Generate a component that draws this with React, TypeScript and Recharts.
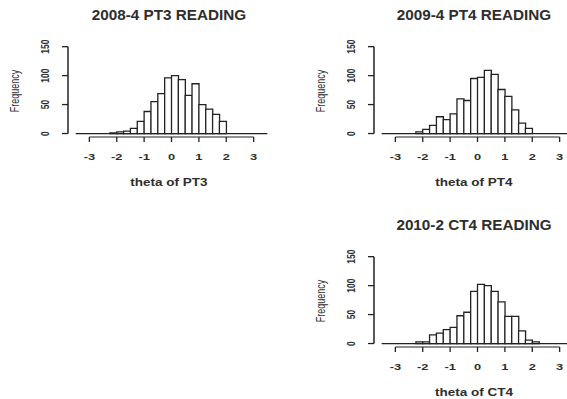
import React from "react";
import { BarChart, Bar, XAxis, YAxis, ReferenceLine } from "recharts";

// bin centres of the histogram (breaks every 0.25 from -3.5 to 3.5)
const binMids = [
  -3.375, -3.125, -2.875, -2.625, -2.375, -2.125, -1.875, -1.625, -1.375, -1.125,
  -0.875, -0.625, -0.375, -0.125, 0.125, 0.375, 0.625, 0.875, 1.125, 1.375,
  1.625, 1.875, 2.125, 2.375, 2.625, 2.875, 3.125, 3.375,
];
const binRange = [-3.5, 3.5];

const pt3Counts = [0, 0, 0, 0, 0, 1, 3, 4, 9, 21, 38, 55, 69, 96, 100, 93, 66, 86, 50, 42, 33, 21, 0, 0, 0, 0, 0, 0];
const pt4Counts = [0, 0, 0, 0, 0, 3, 7, 14, 29, 24, 34, 60, 57, 95, 97, 109, 102, 76, 64, 41, 18, 9, 0, 0, 0, 0, 0, 0];
const ct4Counts = [0, 0, 0, 0, 0, 3, 3, 15, 18, 24, 28, 48, 54, 90, 102, 100, 90, 72, 47, 47, 22, 6, 3, 0, 0, 0, 0, 0];

const xTicks = [-3, -2, -1, 0, 1, 2, 3];
const yTicks = [0, 50, 100, 150];
const titles = ["2008-4 PT3 READING", "2009-4 PT4 READING", "2010-2 CT4 READING"];
const xLabels = ["theta of PT3", "theta of PT4", "theta of CT4"];

const INK = "#222";
const TEXT = "#2e2e2e";
const FONT = "'Liberation Sans', Arial, sans-serif";
const STRETCH = 1.35;

const PANEL_W = 290;
const PANEL_H = 200;
const AXIS_W = 68;
const PLOT_W = 207;

const XTick = ({ x, y, payload }: any) => (
  <text
    transform={`translate(${x},${y + 14.5}) scale(${STRETCH},1)`}
    textAnchor="middle"
    dominantBaseline="central"
    fontSize={9.5}
    fontWeight="bold"
    fontFamily={FONT}
    fill={TEXT}
  >
    {payload.value}
  </text>
);

const YTick = ({ x, y, payload }: any) => (
  <text
    transform={`translate(${x - 17},${y}) scale(${STRETCH},1) rotate(-90)`}
    textAnchor="middle"
    dominantBaseline="central"
    fontSize={8.5}
    fontWeight="bold"
    fontFamily={FONT}
    fill={TEXT}
  >
    {payload.value}
  </text>
);

interface HistProps {
  title: string;
  xLabel: string;
  counts: number[];
  left: number;
  top: number;
}

const Histogram = ({ title, xLabel, counts, left, top }: HistProps) => {
  const rows = binMids.map((mid, i) => ({ mid, count: counts[i] }));
  const centre = AXIS_W + PLOT_W / 2 - 3;
  return (
    <div style={{ position: "absolute", left, top, width: PANEL_W, height: PANEL_H }}>
      <BarChart
        width={PANEL_W}
        height={PANEL_H}
        data={rows}
        margin={{ top: 43.2, right: PANEL_W - AXIS_W - PLOT_W, bottom: 0, left: 0 }}
        barCategoryGap={0}
        barGap={0}
      >
        <XAxis
          type="number"
          dataKey="mid"
          domain={[-3.78, 3.78]}
          allowDataOverflow
          ticks={xTicks}
          interval={0}
          height={63}
          axisLine={false}
          tickLine={{ stroke: INK, strokeWidth: 1.3 }}
          tickSize={5}
          tickMargin={0}
          tick={XTick}
        />
        <YAxis
          type="number"
          domain={[-6, 156]}
          allowDataOverflow
          ticks={yTicks}
          interval={0}
          width={AXIS_W}
          axisLine={false}
          tickLine={{ stroke: INK, strokeWidth: 1.3 }}
          tickSize={6}
          tickMargin={0}
          tick={YTick}
        />
        <ReferenceLine
          segment={[{ x: xTicks[0], y: -6 }, { x: xTicks[xTicks.length - 1], y: -6 }]}
          stroke={INK}
          strokeWidth={1.2}
          ifOverflow="visible"
        />
        <ReferenceLine
          segment={[{ x: -3.78, y: yTicks[0] }, { x: -3.78, y: yTicks[yTicks.length - 1] }]}
          stroke={INK}
          strokeWidth={1.5}
          ifOverflow="visible"
        />
        <ReferenceLine
          segment={[{ x: binRange[0], y: 0 }, { x: binRange[1], y: 0 }]}
          stroke={INK}
          strokeWidth={1.3}
          ifOverflow="visible"
        />
        <Bar dataKey="count" fill="#fff" stroke={INK} strokeWidth={1.3} isAnimationActive={false} />
      </BarChart>
      <div
        style={{
          position: "absolute",
          left: centre,
          top: 15,
          transform: `translate(-50%,-50%) scaleX(1.09)`,
          whiteSpace: "nowrap",
          font: `bold 14px ${FONT}`,
          color: TEXT,
        }}
      >
        {title}
      </div>
      <div
        style={{
          position: "absolute",
          left: centre,
          top: 182,
          transform: `translate(-50%,-50%) scaleX(${STRETCH})`,
          whiteSpace: "nowrap",
          font: `bold 10px ${FONT}`,
          color: TEXT,
        }}
      >
        {xLabel}
      </div>
      <div
        style={{
          position: "absolute",
          left: 15,
          top: 90.5,
          transform: `translate(-50%,-50%) scaleX(${STRETCH}) rotate(-90deg)`,
          whiteSpace: "nowrap",
          font: `9px ${FONT}`,
          color: TEXT,
        }}
      >
        Frequency
      </div>
    </div>
  );
};

export default function App() {
  return (
    <div
      style={{
        position: "absolute",
        left: 0,
        top: 0,
        width: 567,
        height: 399,
        overflow: "hidden",
        background: "#fff",
      }}
    >
      <Histogram title={titles[0]} xLabel={xLabels[0]} counts={pt3Counts} left={0} top={0} />
      <Histogram title={titles[1]} xLabel={xLabels[1]} counts={pt4Counts} left={305.5} top={0} />
      <Histogram title={titles[2]} xLabel={xLabels[2]} counts={ct4Counts} left={305.5} top={210.3} />
    </div>
  );
}
